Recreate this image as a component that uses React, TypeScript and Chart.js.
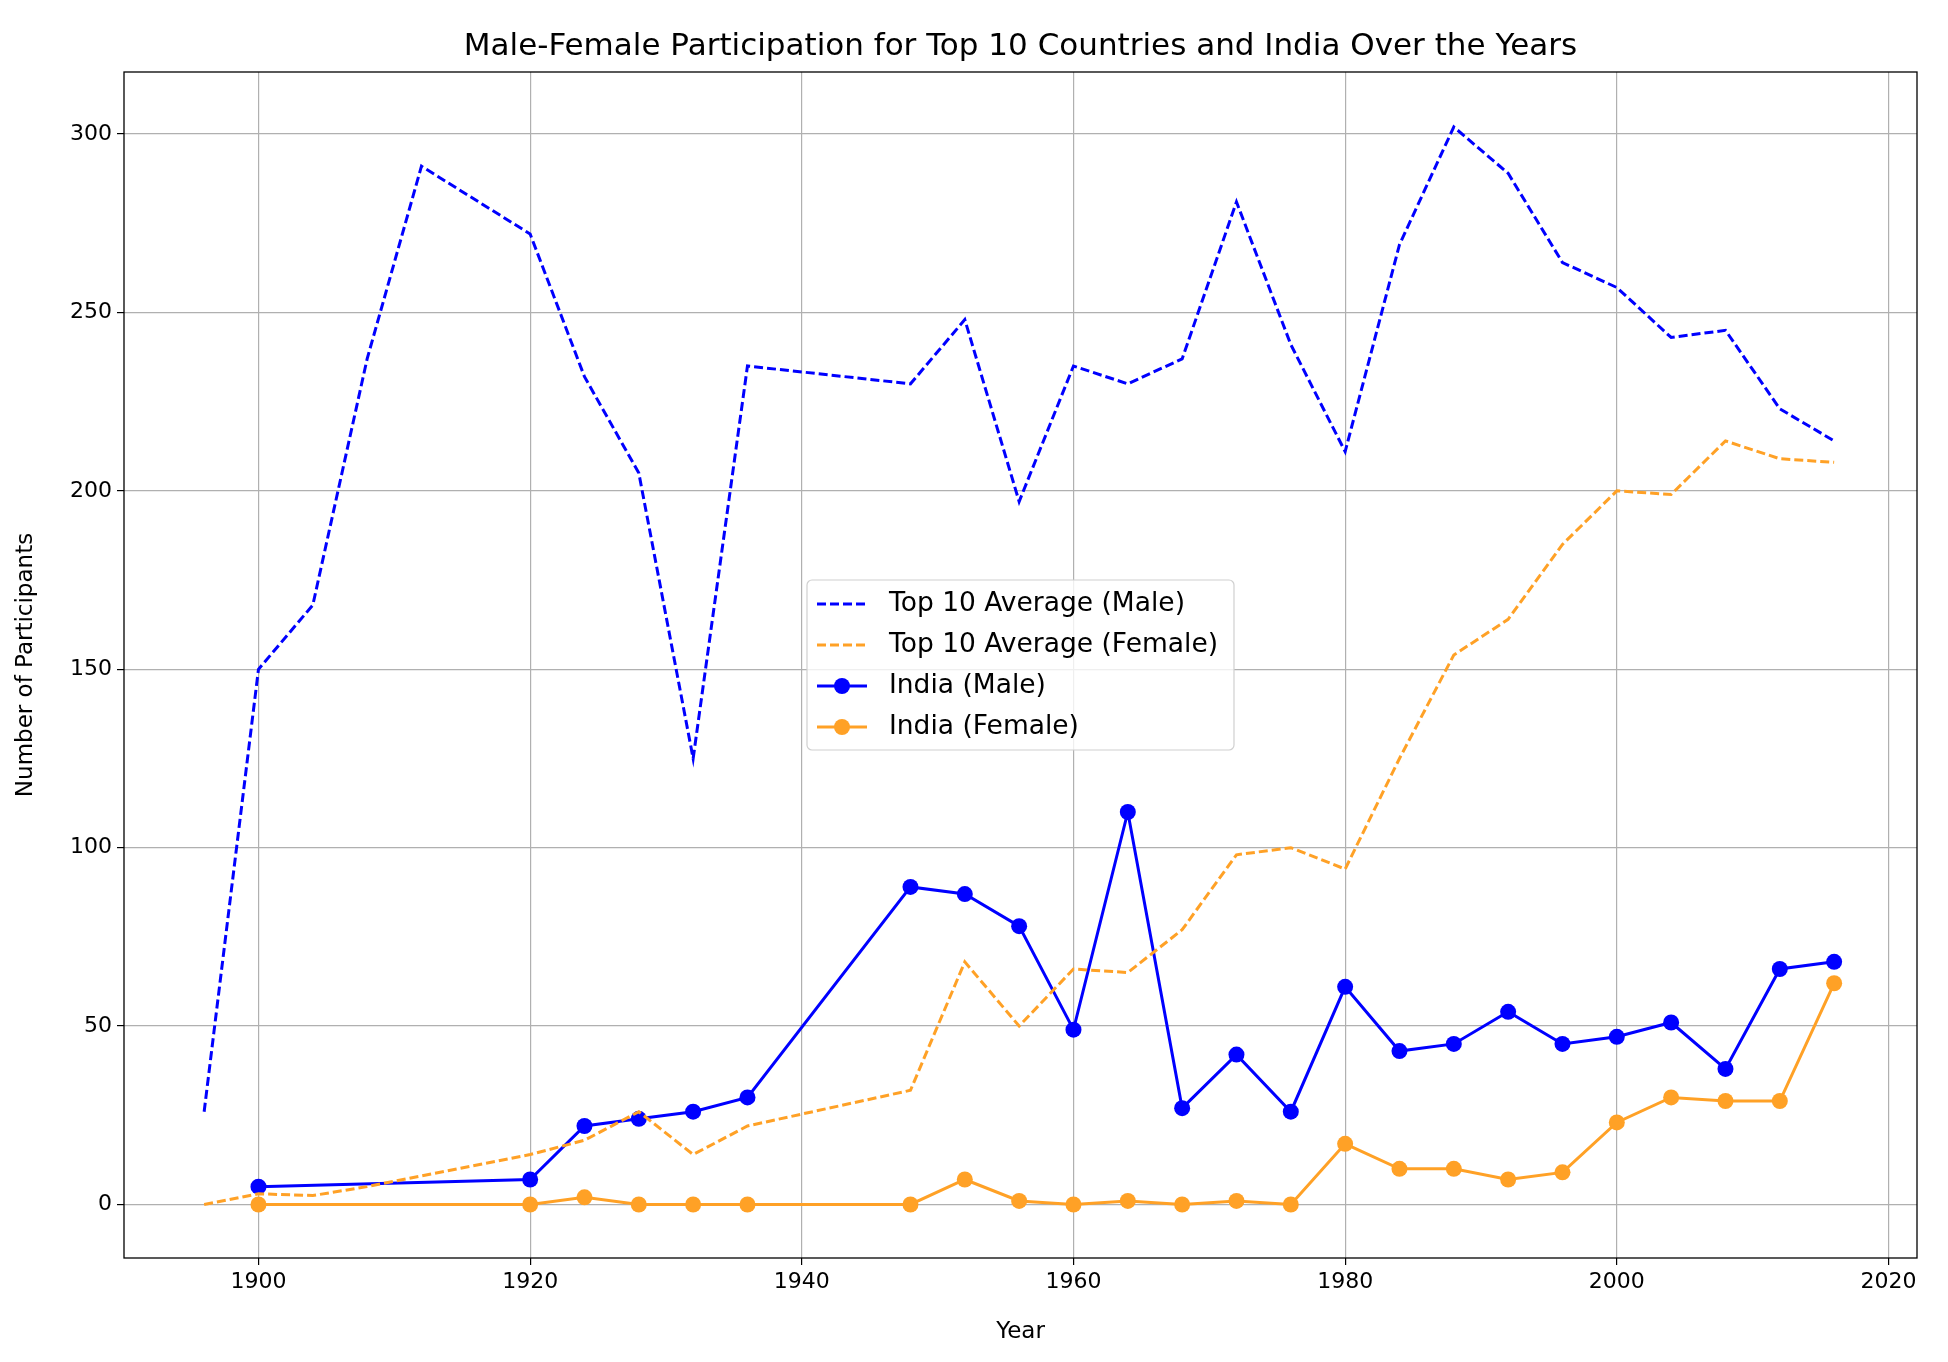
import { useEffect, useRef } from "react"
import { Chart, registerables } from "chart.js"

Chart.register(...registerables)

const avgYears = [1896, 1900, 1904, 1908, 1912, 1920, 1924, 1928, 1932, 1936, 1948, 1952, 1956, 1960, 1964, 1968, 1972, 1976, 1980, 1984, 1988, 1992, 1996, 2000, 2004, 2008, 2012, 2016]
const avgMale = [26, 150, 168, 237, 291, 272, 232, 205, 125, 235, 230, 248, 197, 235, 230, 237, 281, 241, 211, 269, 302, 289, 264, 257, 243, 245, 223, 214]
const avgFemale = [0, 3, 2.5, 5, 8, 14, 18, 26, 14, 22, 32, 68, 50, 66, 65, 77, 98, 100, 94, 125, 154, 164, 185, 200, 199, 214, 209, 208]

const indiaYears = [1900, 1920, 1924, 1928, 1932, 1936, 1948, 1952, 1956, 1960, 1964, 1968, 1972, 1976, 1980, 1984, 1988, 1992, 1996, 2000, 2004, 2008, 2012, 2016]
const indiaMale = [5, 7, 22, 24, 26, 30, 89, 87, 78, 49, 110, 27, 42, 26, 61, 43, 45, 54, 45, 47, 51, 38, 66, 68]
const indiaFemale = [0, 0, 2, 0, 0, 0, 0, 7, 1, 0, 1, 0, 1, 0, 17, 10, 10, 7, 9, 23, 30, 29, 29, 62]

const xTicks = [1900, 1920, 1940, 1960, 1980, 2000, 2020]
const yTicks = [0, 50, 100, 150, 200, 250, 300]

const BLUE = "#0000ff"
const ORANGE = "#ffa126"
const FONT = "'DejaVu Sans', sans-serif"

const pts = (xs: number[], ys: number[]) => xs.map((x, i) => ({ x, y: ys[i] }))

const legendItems = [
  { label: "Top 10 Average (Male)", color: BLUE, dashed: true, marker: false },
  { label: "Top 10 Average (Female)", color: ORANGE, dashed: true, marker: false },
  { label: "India (Male)", color: BLUE, dashed: false, marker: true },
  { label: "India (Female)", color: ORANGE, dashed: false, marker: true },
]

const framePlugin = {
  id: "frame",
  afterDraw(chart: Chart) {
    const { ctx, chartArea: a } = chart
    ctx.save()
    ctx.strokeStyle = "#000"
    ctx.lineWidth = 1.3
    ctx.strokeRect(a.left, a.top, a.right - a.left, a.bottom - a.top)

    // legend box
    const lx = 807, ly = 580, lw = 427, lh = 170
    ctx.fillStyle = "rgba(255,255,255,0.8)"
    ctx.strokeStyle = "#d0d0d0"
    ctx.lineWidth = 1.2
    ctx.beginPath()
    ctx.roundRect(lx, ly, lw, lh, 5)
    ctx.fill()
    ctx.stroke()
    ctx.font = `26.5px ${FONT}`
    ctx.textBaseline = "middle"
    legendItems.forEach((it, i) => {
      const cy = ly + 24 + i * 41
      ctx.strokeStyle = it.color
      ctx.lineWidth = 3
      ctx.setLineDash(it.dashed ? [9, 4] : [])
      ctx.beginPath()
      ctx.moveTo(lx + 10, cy)
      ctx.lineTo(lx + 60, cy)
      ctx.stroke()
      ctx.setLineDash([])
      if (it.marker) {
        ctx.fillStyle = it.color
        ctx.beginPath()
        ctx.arc(lx + 35, cy, 8, 0, Math.PI * 2)
        ctx.fill()
      }
      ctx.fillStyle = "#000"
      ctx.fillText(it.label, lx + 82, cy)
    })
    ctx.restore()
  },
}

export default function App() {
  const chartRef = useRef<HTMLCanvasElement>(null)
  const chartInstance = useRef<Chart | null>(null)

  useEffect(() => {
    document.body.style.margin = "0"
    if (!chartRef.current) return
    if (chartInstance.current) chartInstance.current.destroy()
    const ctx = chartRef.current.getContext("2d")
    if (!ctx) return

    chartInstance.current = new Chart(ctx, {
      type: "line",
      data: {
        datasets: [
          { label: "Top 10 Average (Male)", data: pts(avgYears, avgMale), borderColor: BLUE, borderWidth: 3, borderDash: [9, 4], pointRadius: 0, fill: false },
          { label: "Top 10 Average (Female)", data: pts(avgYears, avgFemale), borderColor: ORANGE, borderWidth: 3, borderDash: [9, 4], pointRadius: 0, fill: false },
          { label: "India (Male)", data: pts(indiaYears, indiaMale), borderColor: BLUE, backgroundColor: BLUE, borderWidth: 3, pointRadius: 8, pointBorderWidth: 0, fill: false },
          { label: "India (Female)", data: pts(indiaYears, indiaFemale), borderColor: ORANGE, backgroundColor: ORANGE, borderWidth: 3, pointRadius: 8, pointBorderWidth: 0, fill: false },
        ],
      },
      options: {
        animation: false,
        responsive: false,
        layout: { padding: { top: 72, right: 31, left: 12, bottom: 16 } },
        scales: {
          x: {
            type: "linear",
            min: 1890.1,
            max: 2022.1,
            afterBuildTicks: (s: any) => { s.ticks = xTicks.map((v) => ({ value: v })) },
            afterFit: (s: any) => { s.height = 88 },
            grid: { color: "#b0b0b0", lineWidth: 1.2, tickColor: "#000", tickLength: 7 },
            border: { display: false },
            ticks: { color: "#000", font: { family: FONT, size: 22 }, padding: 4, callback: (v: any) => String(v) },
            title: { display: true, text: "Year", color: "#000", font: { family: FONT, size: 23 }, padding: { top: 0, bottom: 0 } },
          },
          y: {
            min: -15,
            max: 317.4,
            afterBuildTicks: (s: any) => { s.ticks = yTicks.map((v) => ({ value: v })) },
            afterFit: (s: any) => { s.width = 112 },
            grid: { color: "#b0b0b0", lineWidth: 1.2, tickColor: "#000", tickLength: 7 },
            border: { display: false },
            ticks: { color: "#000", font: { family: FONT, size: 22 }, padding: 5 },
            title: { display: true, text: "Number of Participants", color: "#000", font: { family: FONT, size: 23 }, padding: { top: 0, bottom: 4 } },
          },
        },
        plugins: { legend: { display: false }, tooltip: { enabled: false } },
      },
      plugins: [framePlugin],
    })

    return () => {
      if (chartInstance.current) chartInstance.current.destroy()
    }
  }, [])

  return (
    <div style={{ position: "relative", width: 1948, height: 1362, background: "#fff" }}>
      <div style={{ position: "absolute", top: 26, left: 124, width: 1793, textAlign: "center", fontFamily: FONT, fontSize: 31, color: "#000" }}>
        Male-Female Participation for Top 10 Countries and India Over the Years
      </div>
      <canvas ref={chartRef} width={1948} height={1362} style={{ display: "block" }} />
    </div>
  )
}
